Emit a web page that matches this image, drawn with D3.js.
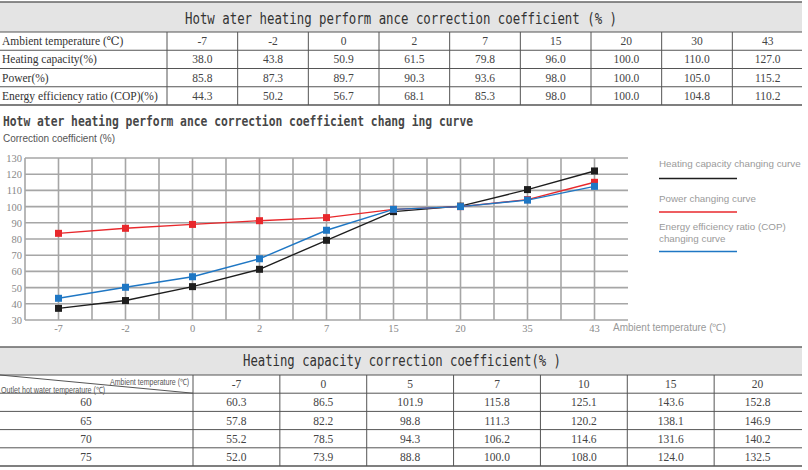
<!DOCTYPE html>
<html>
<head>
<meta charset="utf-8">
<script src="https://cdn.jsdelivr.net/npm/d3@7"></script>
<style>
  body { margin: 0; background: #fff; }
  svg { display: block; }
</style>
</head>
<body>
<script>
// ---- top table data ----
const perfTemps = ["-7", "-2", "0", "2", "7", "15", "20", "30", "43"];
const perfRowLabels = ["Heating capacity(%)", "Power(%)", "Energy efficiency ratio (COP)(%)"];
const heatCapTable = ["38.0", "43.8", "50.9", "61.5", "79.8", "96.0", "100.0", "110.0", "127.0"];
const powerTable = ["85.8", "87.3", "89.7", "90.3", "93.6", "98.0", "100.0", "105.0", "115.2"];
const copTable = ["44.3", "50.2", "56.7", "68.1", "85.3", "98.0", "100.0", "104.8", "110.2"];

// ---- chart data ----
const chartTemps = ["-7", "-2", "0", "2", "7", "15", "20", "35", "43"];
const heatCapCurve = [37.2, 42.0, 50.6, 61.3, 79.2, 96.9, 100.3, 110.5, 122.0];
const powerCurve = [83.5, 86.6, 89.0, 91.3, 93.2, 98.3, 100.0, 104.3, 115.0];
const copCurve = [43.4, 50.2, 56.7, 67.8, 85.4, 98.3, 100.0, 104.0, 112.5];
const yTicks = [30, 40, 50, 60, 70, 80, 90, 100, 110, 120, 130];
const legendLabels = [
  ["Heating capacity changing curve"],
  ["Power changing curve"],
  ["Energy efficiency ratio (COP)", "changing curve"]
];

// ---- bottom table data ----
const ambientTemps = ["-7", "0", "5", "7", "10", "15", "20"];
const outletTemps = ["60", "65", "70", "75"];
const capRows = [
  ["60.3", "86.5", "101.9", "115.8", "125.1", "143.6", "152.8"],
  ["57.8", "82.2", "98.8", "111.3", "120.2", "138.1", "146.9"],
  ["55.2", "78.5", "94.3", "106.2", "114.6", "131.6", "140.2"],
  ["52.0", "73.9", "88.8", "100.0", "108.0", "124.0", "132.5"]
];

const W = 808, H = 470;
const serif = "'Liberation Serif', 'DejaVu Serif', serif";
const sans = "'Liberation Sans', Arial, sans-serif";
const mono = "'DejaVu Sans Mono', 'Liberation Mono', monospace";

const svg = d3.select("body").append("svg")
  .attr("width", W)
  .attr("height", H);

// ================= top table =================
const t1 = svg.append("g");
t1.append("rect").attr("x", 0).attr("y", 2).attr("width", 802).attr("height", 30).attr("fill", "#e4e4e4");
t1.append("line").attr("x1", 0).attr("x2", 802).attr("y1", 2).attr("y2", 2).attr("stroke", "#666").attr("stroke-width", 1.5);
t1.append("text")
  .attr("x", 185).attr("y", 24)
  .attr("textLength", 432).attr("lengthAdjust", "spacingAndGlyphs")
  .attr("font-family", mono).attr("font-size", 15).attr("fill", "#333")
  .text("Hotw ater heating perform ance correction coefficient (% )");

const col1 = d3.scaleBand().domain(perfTemps).range([167, 803]);
const row1 = d3.scaleBand().domain(["head", ...perfRowLabels]).range([32, 105]);

// horizontal rules
row1.domain().forEach((r, i) => {
  t1.append("line")
    .attr("x1", 0).attr("x2", 802)
    .attr("y1", row1(r)).attr("y2", row1(r))
    .attr("stroke", "#555").attr("stroke-width", i === 0 ? 1.2 : 1);
});
t1.append("line").attr("x1", 0).attr("x2", 802).attr("y1", 105).attr("y2", 105)
  .attr("stroke", "#555").attr("stroke-width", 1.6);

// vertical rules
t1.selectAll("line.v").data(perfTemps).join("line")
  .attr("class", "v")
  .attr("x1", d => col1(d)).attr("x2", d => col1(d))
  .attr("y1", 32).attr("y2", 105)
  .attr("stroke", "#555").attr("stroke-width", 1);

const firstColLabels = ["Ambient temperature (℃)", ...perfRowLabels];
t1.selectAll("text.lab").data(firstColLabels).join("text")
  .attr("class", "lab")
  .attr("x", 2)
  .attr("y", (d, i) => row1(row1.domain()[i]) + row1.bandwidth() / 2 + 4)
  .attr("font-family", serif).attr("font-size", 11.5).attr("fill", "#333")
  .text(d => d);

const perfBody = [perfTemps, heatCapTable, powerTable, copTable];
perfBody.forEach((vals, ri) => {
  t1.append("g").selectAll("text").data(vals).join("text")
    .attr("x", (d, i) => col1(perfTemps[i]) + col1.bandwidth() / 2)
    .attr("y", row1(row1.domain()[ri]) + row1.bandwidth() / 2 + 4)
    .attr("text-anchor", "middle")
    .attr("font-family", serif).attr("font-size", 11.5).attr("fill", "#444")
    .text(d => d);
});

// ================= chart =================
const cg = svg.append("g");
cg.append("text")
  .attr("x", 3).attr("y", 126)
  .attr("textLength", 470).attr("lengthAdjust", "spacingAndGlyphs")
  .attr("font-family", mono).attr("font-size", 13.5).attr("font-weight", "bold").attr("fill", "#474747")
  .text("Hotw ater heating perform ance correction coefficient chang ing curve");
cg.append("text")
  .attr("x", 3).attr("y", 142)
  .attr("font-family", sans).attr("font-size", 10).attr("fill", "#555")
  .text("Correction coefficient (%)");

const x = d3.scalePoint().domain(chartTemps).range([25, 628]).padding(0.5);
const y = d3.scaleLinear().domain([30, 130]).range([320, 158]);
const step = x.step();

// grid
const grid = cg.append("g").attr("stroke", "#a6a6a6").attr("stroke-width", 1.6);
grid.selectAll("line.h").data(yTicks).join("line")
  .attr("x1", 25).attr("x2", 628)
  .attr("y1", d => y(d)).attr("y2", d => y(d));
const vx = [];
chartTemps.forEach(t => { vx.push(x(t) - step / 2); vx.push(x(t)); });
grid.selectAll("line.v").data(vx).join("line")
  .attr("x1", d => d).attr("x2", d => d)
  .attr("y1", y(130)).attr("y2", y(30));

// y axis labels
cg.append("g").selectAll("text").data(yTicks).join("text")
  .attr("x", 22).attr("y", d => y(d) + 4)
  .attr("text-anchor", "end")
  .attr("font-family", serif).attr("font-size", 10.5).attr("fill", "#888")
  .text(d => d);

// x axis labels
cg.append("g").selectAll("text").data(chartTemps).join("text")
  .attr("x", d => x(d)).attr("y", 332)
  .attr("text-anchor", "middle")
  .attr("font-family", serif).attr("font-size", 10.5).attr("fill", "#888")
  .text(d => d);
cg.append("text")
  .attr("x", 613).attr("y", 331)
  .attr("font-family", sans).attr("font-size", 10).attr("fill", "#999")
  .text("Ambient temperature (℃)");

const series = [
  { vals: heatCapCurve, color: "#1e1e1e" },
  { vals: powerCurve, color: "#e8282c" },
  { vals: copCurve, color: "#1f77c4" }
];
const line = d3.line()
  .x((d, i) => x(chartTemps[i]))
  .y(d => y(d));

series.forEach(s => {
  cg.append("path")
    .attr("d", line(s.vals))
    .attr("fill", "none")
    .attr("stroke", s.color)
    .attr("stroke-width", 1.4);
  cg.append("g").selectAll("rect").data(s.vals).join("rect")
    .attr("x", (d, i) => x(chartTemps[i]) - 3.5)
    .attr("y", d => y(d) - 3.5)
    .attr("width", 7).attr("height", 7)
    .attr("fill", s.color);
});

// legend
const legY = [166.5, 201.5, 230];
const legLineY = [178.5, 212, 251.5];
legendLabels.forEach((lines, i) => {
  lines.forEach((t, j) => {
    cg.append("text")
      .attr("x", 659).attr("y", legY[i] + j * 11.5)
      .attr("font-family", sans).attr("font-size", 9.8).attr("fill", "#9a9a9a")
      .text(t);
  });
  cg.append("line")
    .attr("x1", 659).attr("x2", 737)
    .attr("y1", legLineY[i]).attr("y2", legLineY[i])
    .attr("stroke", series[i].color).attr("stroke-width", 1.6);
});

// ================= bottom table =================
const t2 = svg.append("g");
t2.append("rect").attr("x", 0).attr("y", 347).attr("width", 802).attr("height", 28).attr("fill", "#e4e4e4");
t2.append("line").attr("x1", 0).attr("x2", 802).attr("y1", 347).attr("y2", 347).attr("stroke", "#666").attr("stroke-width", 1.5);
t2.append("text")
  .attr("x", 243).attr("y", 366)
  .attr("textLength", 318).attr("lengthAdjust", "spacingAndGlyphs")
  .attr("font-family", mono).attr("font-size", 15.5).attr("fill", "#333")
  .text("Heating capacity correction coefficient(% )");

const col2 = d3.scaleBand().domain(ambientTemps).range([193, 801]);
const row2 = d3.scaleBand().domain(["head", ...outletTemps]).range([375, 466]);

row2.domain().forEach(r => {
  t2.append("line")
    .attr("x1", 0).attr("x2", 802)
    .attr("y1", row2(r)).attr("y2", row2(r))
    .attr("stroke", "#555").attr("stroke-width", 1);
});
t2.append("line").attr("x1", 0).attr("x2", 802).attr("y1", 466).attr("y2", 466)
  .attr("stroke", "#555").attr("stroke-width", 1.6);

t2.selectAll("line.v").data(ambientTemps).join("line")
  .attr("class", "v")
  .attr("x1", d => col2(d)).attr("x2", d => col2(d))
  .attr("y1", 375).attr("y2", 466)
  .attr("stroke", "#555").attr("stroke-width", 1);

// diagonal header cell
t2.append("line")
  .attr("x1", 0).attr("y1", 375)
  .attr("x2", 193).attr("y2", row2(outletTemps[0]))
  .attr("stroke", "#555").attr("stroke-width", 1);
t2.append("text")
  .attr("x", 110).attr("y", 385)
  .attr("textLength", 79).attr("lengthAdjust", "spacingAndGlyphs")
  .attr("font-family", sans).attr("font-size", 8.5).attr("fill", "#555")
  .text("Ambient temperature (℃)");
t2.append("text")
  .attr("x", 1).attr("y", 393)
  .attr("textLength", 104).attr("lengthAdjust", "spacingAndGlyphs")
  .attr("font-family", sans).attr("font-size", 8.5).attr("fill", "#555")
  .text("Outlet hot water temperature (℃)");

// header values
t2.append("g").selectAll("text").data(ambientTemps).join("text")
  .attr("x", d => col2(d) + col2.bandwidth() / 2)
  .attr("y", row2("head") + row2.bandwidth() / 2 + 4)
  .attr("text-anchor", "middle")
  .attr("font-family", serif).attr("font-size", 11.5).attr("fill", "#444")
  .text(d => d);

outletTemps.forEach((o, ri) => {
  const ty = row2(o) + row2.bandwidth() / 2 + 4;
  t2.append("text")
    .attr("x", 86).attr("y", ty)
    .attr("text-anchor", "middle")
    .attr("font-family", serif).attr("font-size", 11.5).attr("fill", "#444")
    .text(o);
  t2.append("g").selectAll("text").data(capRows[ri]).join("text")
    .attr("x", (d, i) => col2(ambientTemps[i]) + col2.bandwidth() / 2)
    .attr("y", ty)
    .attr("text-anchor", "middle")
    .attr("font-family", serif).attr("font-size", 11.5).attr("fill", "#444")
    .text(d => d);
});
</script>
</body>
</html>
